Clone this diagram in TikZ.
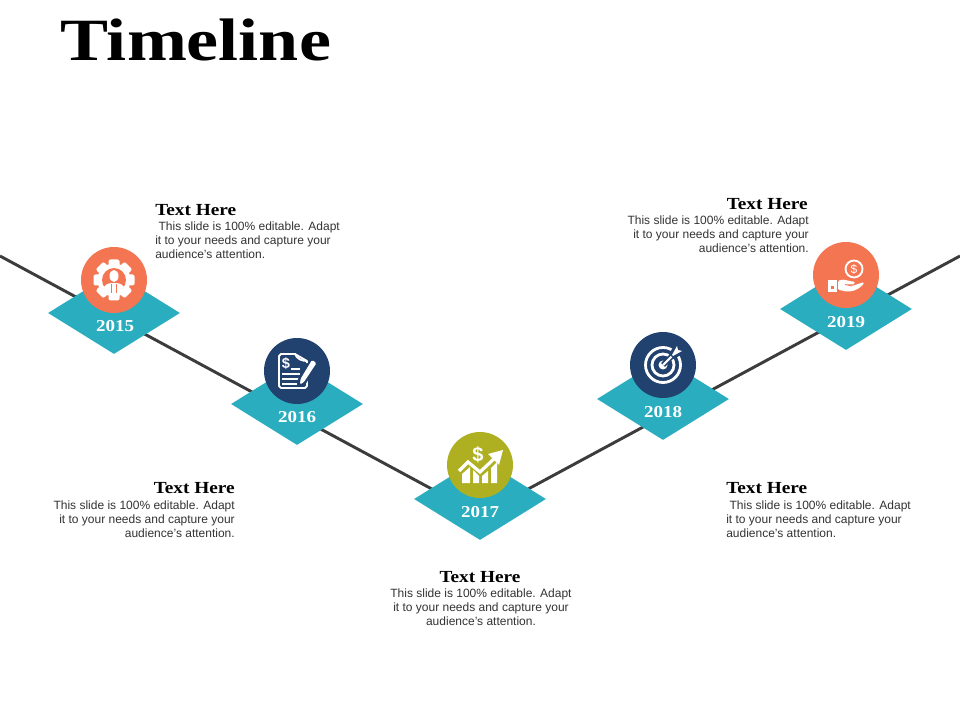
\documentclass[tikz,border=0pt]{standalone}
\usepackage{fontspec}
\setmainfont{Liberation Sans}
\newfontfamily\headfont[FakeStretch=1.2]{Liberation Serif}
\newfontfamily\smallhead[FakeStretch=1.14]{Liberation Serif}
\usetikzlibrary{shapes.geometric}
\definecolor{teal1}{HTML}{2AADBF}
\definecolor{coral}{HTML}{F37552}
\definecolor{navy}{HTML}{21416E}
\definecolor{olive}{HTML}{AEB021}
\definecolor{linegrey}{HTML}{3C3C3C}
\definecolor{bodygrey}{HTML}{333333}
\tikzset{
  yeardiamond/.style={diamond,aspect=1.61,fill=teal1,minimum width=99pt,minimum height=61.5pt,inner sep=0pt},
  disc/.style={circle,minimum size=49.5pt,inner sep=0pt},
  yearlabel/.style={font=\smallhead\bfseries\fontsize{12.5}{14}\selectfont,text=white,inner sep=0pt},
  head/.style={font=\smallhead\bfseries\fontsize{12.7}{15}\selectfont,text=black,inner sep=0pt},
  bodyl/.style={font=\fontsize{9}{10.5}\selectfont,text=bodygrey,align=left,inner sep=0pt},
  bodyr/.style={font=\fontsize{9}{10.5}\selectfont,text=bodygrey,align=right,inner sep=0pt},
  bodyc/.style={font=\fontsize{9}{10.5}\selectfont,text=bodygrey,align=center,inner sep=0pt},
  trail/.style={draw=linegrey,line width=2.2pt},
  ico/.style={draw=white,line width=1.4pt,fill=none}
}
\begin{document}
\begin{tikzpicture}[x=0.75pt,y=-0.75pt]
\useasboundingbox (0,0) rectangle (960,720);
\fill[white] (0,0) rectangle (960,720);
\node[anchor=west,inner sep=0pt,font=\headfont\bfseries\fontsize{45}{47}\selectfont] (title) at (60,40) {Timeline};
\coordinate (ls) at (0,256);
\coordinate (lv) at (480,515);
\coordinate (le) at (960,256);
\draw[trail] (ls) -- (lv) -- (le);
% diamonds
\node[yeardiamond] (d15) at (114,313) {};
\node[yeardiamond] (d16) at (297,404) {};
\node[yeardiamond] (d17) at (480,499) {};
\node[yeardiamond] (d18) at (663,399) {};
\node[yeardiamond] (d19) at (846,309) {};
% discs
\node[disc,fill=coral] (c15) at (114,280) {};
\node[disc,fill=navy] (c16) at (297,371) {};
\node[disc,fill=olive] (c17) at (480,465) {};
\node[disc,fill=navy] (c18) at (663,365) {};
\node[disc,fill=coral] (c19) at (846,275) {};
% years
\node[yearlabel] (y15) at (115,326) {2015};
\node[yearlabel] (y16) at (297,417) {2016};
\node[yearlabel] (y17) at (480,512) {2017};
\node[yearlabel] (y18) at (663,412) {2018};
\node[yearlabel] (y19) at (846,322) {2019};
% text blocks
\node[head,anchor=west] (h15) at (155,210) {Text Here};
\node[bodyl,anchor=north west] (b15) at (155,222) {\ This slide is 100\% editable. Adapt\\it to your needs and capture your\\audience's attention.};
\node[head,anchor=east] (h16) at (235,488) {Text Here};
\node[bodyr,anchor=north east] (b16) at (235,501) {This slide is 100\% editable. Adapt\\it to your needs and capture your\\audience's attention.};
\node[head] (h17) at (480,577) {Text Here};
\node[bodyc,anchor=north] (b17) at (481,589) {This slide is 100\% editable. Adapt\\it to your needs and capture your\\audience's attention.};
\node[head,anchor=west] (h18) at (726,488) {Text Here};
\node[bodyl,anchor=north west] (b18) at (726,501) {\ This slide is 100\% editable. Adapt\\it to your needs and capture your\\audience's attention.};
\node[head,anchor=east] (h19) at (808,204) {Text Here};
\node[bodyr,anchor=north east] (b19) at (809,216) {This slide is 100\% editable. Adapt\\it to your needs and capture your\\audience's attention.};
% icon 2015: gear + person
\begin{scope}[shift={(c15)}]
  \foreach \a in {0,45,...,315}
    \fill[white,rotate=\a,rounded corners=1.5pt] (-5.5,-20.5) rectangle (5.5,-10);
  \fill[white] (0,0) circle (16.5);
  \fill[coral] (0,0) circle (12);
  \fill[white] (0,-4) ellipse (4.5 and 6);
  \fill[white] (-10,7) .. controls (-8,3.5) and (-4,3) .. (0,3) .. controls (4,3) and (8,3.5) .. (10,7) -- (6,12) -- (-6,12) -- cycle;
  \draw[coral,line width=.7pt] (-2.5,4) -- (-2.5,13) (2.5,4) -- (2.5,13);
\end{scope}
% icon 2016: document + pen
\begin{scope}[shift={(c16)}]
  \draw[ico,line join=round] (10,6) -- (10,15) -- (8,17) -- (-16,17) -- (-18,15) -- (-18,-15) -- (-16,-17) -- (-2,-17) .. controls (0,-12) and (5,-10) .. (10,-10) -- (10,-8);
  \draw[ico] (-2,-17) -- (10,-10);
  \node[text=white,inner sep=0pt,font=\bfseries\fontsize{11}{11}\selectfont] (dollar16) at (-11,-7) {\$};
  \draw[ico] (-6,-2) -- (3,-2) (-15,3) -- (3,3) (-15,8) -- (2,8) (-15,13) -- (0,13);
  \fill[navy] (14,-13) -- (22,-8) -- (8,14) -- (0,15) -- (1,8) -- cycle;
  \fill[white,rounded corners=1pt] (15,-11) -- (19.5,-8) -- (7,11) -- (3,13.5) -- (3.5,8) -- cycle;
\end{scope}
% icon 2017: chart + arrow + dollar
\begin{scope}[shift={(c17)}]
  \fill[white] (-18,18) -- (-18,9) -- (-10,2) -- (-10,18) -- cycle;
  \fill[white] (-7,18) -- (-7,5) -- (-1,11) -- (-1,18) -- cycle;
  \fill[white] (2,18) -- (2,11) -- (8,6) -- (8,18) -- cycle;
  \fill[white] (11,18) -- (11,3) -- (17,-3) -- (17,18) -- cycle;
  \draw[white,line width=2.4pt] (-21,6) -- (-12,-3) -- (0,7) -- (17,-9);
  \fill[white] (23,-15) -- (19,0) -- (8,-11) -- cycle;
  \node[text=white,inner sep=0pt,font=\bfseries\fontsize{15}{15}\selectfont] (dollar17) at (-2,-10) {\$};
\end{scope}
% icon 2018: target
\begin{scope}[shift={(c18)}]
  \draw[white,line width=2.1pt] (0,0) circle (17.5);
  \draw[white,line width=2.1pt] (0,0) circle (11);
  \fill[white] (0,0) circle (4.5);
  \draw[navy,line width=4pt] (0,0) -- (18,-18);
  \draw[white,line width=1.6pt] (0,0) -- (14,-14);
  \fill[navy] (6,-11) -- (12,-21) -- (15,-21) -- (21,-15) -- (21,-12) -- (11,-6) -- cycle;
  \fill[white] (9,-10) -- (14,-19) -- (15,-15) -- (19,-14) -- (10,-9) -- cycle;
\end{scope}
% icon 2019: hand + coin
\begin{scope}[shift={(c19)}]
  \draw[white,line width=1.4pt] (8,-6) circle (8.5);
  \node[text=white,inner sep=0pt,font=\fontsize{9}{9}\selectfont] (dollar19) at (8,-6) {\$};
  \fill[white] (-18,5) rectangle (-9.5,17);
  \fill[coral] (-15.5,11) rectangle (-12.5,14);
  \fill[white,rounded corners=1pt] (-8,6) .. controls (-4,4) and (0,5) .. (3,6) -- (7,6.5) .. controls (9,7) and (9,9) .. (6,9.5) -- (-1,9.5) -- (6,11) -- (18,7) .. controls (17,11) and (10,16) .. (3,16.5) .. controls (-2,16.5) and (-5,15) .. (-8,15) -- cycle;
  \draw[coral,line width=.6pt] (-1,9.5) -- (6,11);
\end{scope}
\end{tikzpicture}
\end{document}
